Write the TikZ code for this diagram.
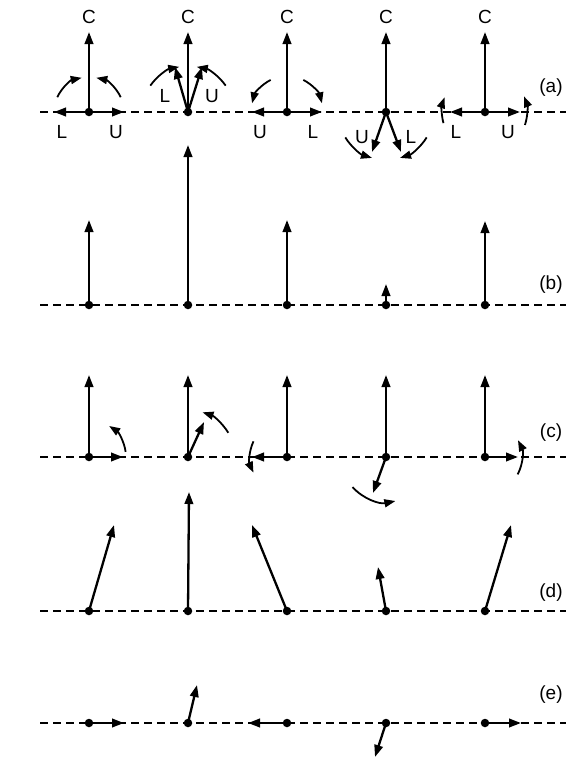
\documentclass[tikz,border=0pt]{standalone}
\usepackage{fontspec}
\setmainfont{Liberation Sans}
\usetikzlibrary{arrows.meta,calc}
\tikzset{
  dotnode/.style={circle,fill=black,inner sep=0pt,minimum size=8.5pt},
  vec/.style={line width=2.3pt,-{Triangle[length=12pt,width=8.5pt]}},
  carc/.style={line width=1.8pt,-{Triangle[length=11pt,width=8pt]}},
  dline/.style={line width=1.5pt,dash pattern=on 8pt off 5pt},
  lbl/.style={font=\fontsize{19}{22}\selectfont,inner sep=0pt},
  rowlbl/.style={font=\fontsize{19}{22}\selectfont,inner sep=0pt}
}
\begin{document}
\begin{tikzpicture}[x=1pt,y=1pt]
\useasboundingbox (0,0) rectangle (580,-761);
% dashed baselines
\foreach \r/\yy in {a/112,b/305,c/457,d/611,e/723}{
  \coordinate (\r L) at (40,-\yy);
  \coordinate (\r R) at (566,-\yy);
  \draw[dline] (\r L) -- (\r R);
}
% row labels
\node[rowlbl] (la) at (551,-88) {(a)};
\node[rowlbl] (lb) at (551,-285) {(b)};
\node[rowlbl] (lc) at (551,-433) {(c)};
\node[rowlbl] (ld) at (551,-593) {(d)};
\node[rowlbl] (le) at (551,-695) {(e)};

% ================= row (a) =================
\foreach \i/\xx in {1/89,2/188,3/287,4/386,5/485}{
  \node[dotnode] (a\i) at (\xx,-112) {};
  \coordinate (ca\i) at (\xx,-32);
  \draw[vec] (a\i.center) -- (ca\i);
  \node[lbl] (Ca\i) at (\xx,-17) {C};
}
% col 1
\coordinate (a1l) at (54,-112);
\coordinate (a1u) at (124,-112);
\draw[vec] (a1.center) -- (a1l);
\draw[vec] (a1.center) -- (a1u);
\node[lbl] (La1) at (62,-132) {L};
\node[lbl] (Ua1) at (116,-132) {U};
\draw[carc] ($(a1)+(155:35)$) arc[start angle=155,end angle=102,radius=35];
\draw[carc] ($(a1)+(25:35)$) arc[start angle=25,end angle=78,radius=35];
% col 2
\coordinate (a2l) at (175,-67);
\coordinate (a2u) at (202,-67);
\draw[vec] (a2.center) -- (a2l);
\draw[vec] (a2.center) -- (a2u);
\node[lbl] (La2) at (165,-96) {L};
\node[lbl] (Ua2) at (212,-96) {U};
\draw[carc] ($(a2)+(145:46)$) arc[start angle=145,end angle=101,radius=46];
\draw[carc] ($(a2)+(35:46)$) arc[start angle=35,end angle=79,radius=46];
% col 3
\coordinate (a3u) at (252,-112);
\coordinate (a3l) at (322,-112);
\draw[vec] (a3.center) -- (a3u);
\draw[vec] (a3.center) -- (a3l);
\node[lbl] (Ua3) at (260,-132) {U};
\node[lbl] (La3) at (313,-132) {L};
\draw[carc] ($(a3)+(117:36)$) arc[start angle=117,end angle=166,radius=36];
\draw[carc] ($(a3)+(63:36)$) arc[start angle=63,end angle=14,radius=36];
% col 4
\coordinate (a4u) at (372,-152);
\coordinate (a4l) at (401,-152);
\draw[vec] (a4.center) -- (a4u);
\draw[vec] (a4.center) -- (a4l);
\node[lbl] (Ua4) at (362,-137) {U};
\node[lbl] (La4) at (411,-137) {L};
\draw[carc] ($(a4)+(212:48)$) arc[start angle=212,end angle=253,radius=48];
\draw[carc] ($(a4)+(328:48)$) arc[start angle=328,end angle=287,radius=48];
% col 5
\coordinate (a5l) at (450,-112);
\coordinate (a5u) at (520,-112);
\draw[vec] (a5.center) -- (a5l);
\draw[vec] (a5.center) -- (a5u);
\node[lbl] (La5) at (456,-132) {L};
\node[lbl] (Ua5) at (508,-132) {U};
\draw[carc] ($(a5)+(195:43)$) arc[start angle=195,end angle=160,radius=43];
\draw[carc] ($(a5)+(-18:42)$) arc[start angle=-18,end angle=22,radius=42];

% ================= row (b) =================
\foreach \i/\xx/\ty in {1/89/220,2/188/145,3/287/220,4/386/284,5/485/221}{
  \node[dotnode] (b\i) at (\xx,-305) {};
  \coordinate (tb\i) at (\xx,-\ty);
  \draw[vec] (b\i.center) -- (tb\i);
}

% ================= row (c) =================
\foreach \i/\xx in {1/89,2/188,3/287,4/386,5/485}{
  \node[dotnode] (c\i) at (\xx,-457) {};
  \coordinate (cc\i) at (\xx,-375);
  \draw[vec] (c\i.center) -- (cc\i);
}
\coordinate (tc1) at (123,-457);
\coordinate (tc2) at (204,-422);
\coordinate (tc3) at (252,-457);
\coordinate (tc4) at (373,-493);
\coordinate (tc5) at (518,-457);
\foreach \i in {1,...,5}{\draw[vec] (c\i.center) -- (tc\i);}
\draw[carc] ($(c1)+(8:37)$) arc[start angle=8,end angle=57,radius=37];
\draw[carc] ($(c2)+(31:47)$) arc[start angle=31,end angle=72,radius=47];
\draw[carc] ($(c3)+(155:37)$) arc[start angle=155,end angle=205,radius=37];
\draw[carc] ($(c4)+(222:45)$) arc[start angle=222,end angle=282,radius=45];
\draw[carc] ($(c5)+(-28:37)$) arc[start angle=-28,end angle=27,radius=37];

% ================= row (d) =================
\foreach \i/\xx/\tx/\ty in {1/89/114/525,2/188/189/492,3/287/252/525,4/386/378/567,5/485/511/525}{
  \node[dotnode] (d\i) at (\xx,-611) {};
  \coordinate (td\i) at (\tx,-\ty);
  \draw[vec] (d\i.center) -- (td\i);
}

% ================= row (e) =================
\foreach \i/\xx/\tx/\ty in {1/89/124/723,2/188/197/685,3/287/248/723,4/386/375/757,5/485/521/723}{
  \node[dotnode] (e\i) at (\xx,-723) {};
  \coordinate (te\i) at (\tx,-\ty);
  \draw[vec] (e\i.center) -- (te\i);
}
\end{tikzpicture}
\end{document}
